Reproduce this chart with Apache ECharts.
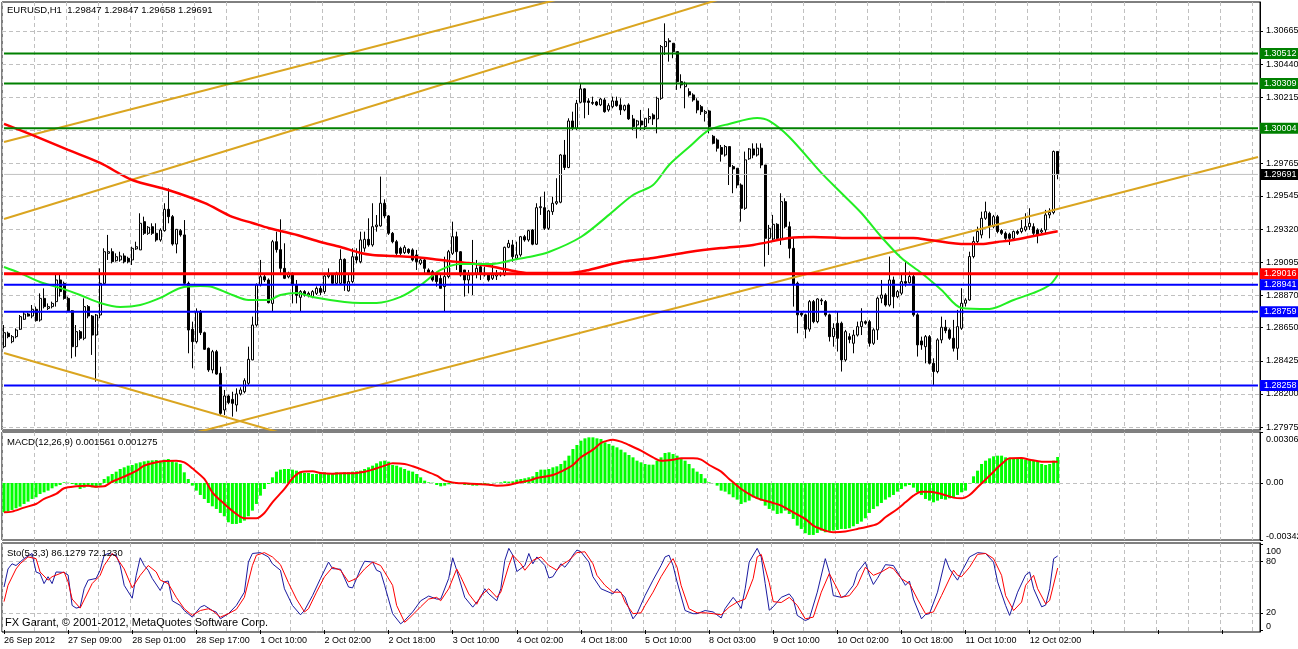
<!DOCTYPE html>
<html>
<head>
<meta charset="utf-8">
<title>EURUSD,H1</title>
<script src="https://cdn.jsdelivr.net/npm/echarts@6/dist/echarts.min.js"></script>
<style>
  html, body { margin: 0; padding: 0; background: #fff; }
  #main { width: 1298px; height: 649px; }
</style>
</head>
<body>
<div id="main"></div>
<script>
// slots on the time axis: 264 hourly bars + empty space on the right
var barCount = 314
var categories = []
for (var k = 0; k < barCount; k++) categories.push(String(k))

// one label every 16 bars
var timeLabels = ['26 Sep 2012', '27 Sep 09:00', '28 Sep 01:00', '28 Sep 17:00', '1 Oct 10:00',
  '2 Oct 02:00', '2 Oct 18:00', '3 Oct 10:00', '4 Oct 02:00', '4 Oct 18:00', '5 Oct 10:00',
  '8 Oct 03:00', '9 Oct 10:00', '10 Oct 02:00', '10 Oct 18:00', '11 Oct 10:00', '12 Oct 02:00']

var priceTicks = [1.30665, 1.30440, 1.30215, 1.29990, 1.29765, 1.29545, 1.29320,
  1.29095, 1.28870, 1.28650, 1.28425, 1.28200, 1.27975]

// EURUSD H1 bars: [open, close, low, high]
var candles = [
  [1.28521, 1.28616, 1.28510, 1.28668], [1.28612, 1.28589, 1.28578, 1.28623], [1.28555, 1.28589, 1.28544, 1.28600], [1.28589, 1.28634, 1.28578, 1.28645], [1.28639, 1.28725, 1.28634, 1.28736],
  [1.28707, 1.28743, 1.28702, 1.28759], [1.28743, 1.28729, 1.28725, 1.28752], [1.28729, 1.28775, 1.28714, 1.28804], [1.28775, 1.28698, 1.28691, 1.28793], [1.28702, 1.28849, 1.28691, 1.28883],
  [1.28849, 1.28793, 1.28781, 1.28917], [1.28781, 1.28793, 1.28770, 1.28815], [1.28793, 1.28815, 1.28781, 1.28827], [1.28827, 1.28974, 1.28793, 1.29019], [1.28974, 1.28895, 1.28861, 1.29008],
  [1.28951, 1.28849, 1.28840, 1.28963], [1.28849, 1.28765, 1.28759, 1.28861], [1.28765, 1.28521, 1.28442, 1.28770], [1.28521, 1.28623, 1.28453, 1.28668], [1.28623, 1.28578, 1.28565, 1.28634],
  [1.28578, 1.28793, 1.28565, 1.28849], [1.28793, 1.28729, 1.28714, 1.28804], [1.28729, 1.28600, 1.28465, 1.28736], [1.28600, 1.28736, 1.28283, 1.28743], [1.28736, 1.28951, 1.28714, 1.29053],
  [1.28951, 1.29166, 1.28940, 1.29189], [1.29155, 1.29166, 1.29110, 1.29280], [1.29166, 1.29098, 1.29087, 1.29189], [1.29105, 1.29132, 1.29098, 1.29155], [1.29110, 1.29137, 1.29098, 1.29166],
  [1.29137, 1.29098, 1.29087, 1.29155], [1.29121, 1.29098, 1.29087, 1.29132], [1.29110, 1.29189, 1.29076, 1.29200], [1.29185, 1.29200, 1.29178, 1.29234], [1.29178, 1.29359, 1.29178, 1.29427],
  [1.29370, 1.29291, 1.29280, 1.29404], [1.29291, 1.29332, 1.29280, 1.29340], [1.29336, 1.29291, 1.29280, 1.29359], [1.29291, 1.29246, 1.29234, 1.29359], [1.29246, 1.29313, 1.29234, 1.29325],
  [1.29309, 1.29454, 1.29302, 1.29495], [1.29454, 1.29404, 1.29359, 1.29596], [1.29404, 1.29218, 1.29207, 1.29415], [1.29218, 1.29318, 1.29155, 1.29320], [1.29309, 1.29280, 1.29268, 1.29320],
  [1.29280, 1.28951, 1.28940, 1.29381], [1.28951, 1.28634, 1.28476, 1.28963], [1.28639, 1.28555, 1.28374, 1.28691], [1.28555, 1.28759, 1.28543, 1.28781], [1.28759, 1.28616, 1.28600, 1.28770],
  [1.28616, 1.28503, 1.28499, 1.28623], [1.28510, 1.28363, 1.28350, 1.28515], [1.28363, 1.28487, 1.28340, 1.28499], [1.28487, 1.28335, 1.28330, 1.28499], [1.28340, 1.28068, 1.28057, 1.28385],
  [1.28091, 1.28186, 1.28057, 1.28227], [1.28186, 1.28141, 1.28130, 1.28195], [1.28163, 1.28136, 1.28046, 1.28215], [1.28125, 1.28200, 1.28080, 1.28238], [1.28200, 1.28227, 1.28190, 1.28245],
  [1.28215, 1.28290, 1.28204, 1.28306], [1.28272, 1.28435, 1.28261, 1.28521], [1.28431, 1.28668, 1.28429, 1.28725], [1.28668, 1.28940, 1.28657, 1.28951], [1.28940, 1.28996, 1.28930, 1.29110],
  [1.28996, 1.28974, 1.28960, 1.29008], [1.28974, 1.28820, 1.28815, 1.28985], [1.28815, 1.29234, 1.28759, 1.29246], [1.29234, 1.29180, 1.29160, 1.29302], [1.29180, 1.29053, 1.29019, 1.29386],
  [1.29053, 1.28985, 1.28980, 1.29223], [1.28995, 1.29019, 1.28985, 1.29030], [1.29019, 1.28940, 1.28815, 1.29025], [1.28940, 1.28870, 1.28815, 1.28974], [1.28856, 1.28895, 1.28759, 1.28905],
  [1.28895, 1.28872, 1.28861, 1.28905], [1.28872, 1.28883, 1.28856, 1.28895], [1.28861, 1.28895, 1.28850, 1.28905], [1.28883, 1.28917, 1.28872, 1.28930], [1.28917, 1.28890, 1.28872, 1.28935],
  [1.28895, 1.29001, 1.28880, 1.29010], [1.28997, 1.29008, 1.28985, 1.29053], [1.29008, 1.28951, 1.28940, 1.29019], [1.28951, 1.29019, 1.28940, 1.29030], [1.28951, 1.29114, 1.28945, 1.29182],
  [1.29114, 1.28951, 1.28900, 1.29121], [1.28900, 1.28963, 1.28895, 1.29019], [1.28963, 1.29132, 1.28951, 1.29189], [1.29132, 1.29110, 1.29087, 1.29189], [1.29098, 1.29246, 1.29087, 1.29302],
  [1.29190, 1.29250, 1.29166, 1.29302], [1.29250, 1.29212, 1.29200, 1.29393], [1.29212, 1.29336, 1.29200, 1.29495], [1.29336, 1.29347, 1.29302, 1.29415], [1.29341, 1.29495, 1.29336, 1.29676],
  [1.29495, 1.29409, 1.29393, 1.29522], [1.29409, 1.29291, 1.29280, 1.29415], [1.29291, 1.29234, 1.29223, 1.29300], [1.29234, 1.29155, 1.29144, 1.29246], [1.29189, 1.29155, 1.29144, 1.29200],
  [1.29160, 1.29196, 1.29150, 1.29210], [1.29182, 1.29160, 1.29150, 1.29189], [1.29178, 1.29110, 1.29100, 1.29189], [1.29144, 1.29098, 1.29042, 1.29178], [1.29087, 1.29110, 1.29075, 1.29120],
  [1.29110, 1.29053, 1.29019, 1.29121], [1.29042, 1.29019, 1.29008, 1.29053], [1.29030, 1.28974, 1.28963, 1.29042], [1.29008, 1.28963, 1.28929, 1.29030], [1.28985, 1.28917, 1.28917, 1.29019],
  [1.28929, 1.28997, 1.28759, 1.29132], [1.28997, 1.29166, 1.28985, 1.29178], [1.29155, 1.29268, 1.29144, 1.29370], [1.29268, 1.29166, 1.29042, 1.29302], [1.29166, 1.29008, 1.28997, 1.29170],
  [1.29042, 1.28974, 1.28861, 1.29042], [1.28974, 1.29008, 1.28883, 1.29042], [1.29008, 1.29019, 1.28872, 1.29246], [1.29019, 1.29053, 1.28985, 1.29110], [1.29064, 1.29019, 1.28974, 1.29087],
  [1.29019, 1.29008, 1.28997, 1.29064], [1.29008, 1.28974, 1.28963, 1.29019], [1.28985, 1.29008, 1.28974, 1.29076], [1.29001, 1.29015, 1.28974, 1.29042], [1.29008, 1.29019, 1.28997, 1.29030],
  [1.29008, 1.29196, 1.29000, 1.29200], [1.29196, 1.29223, 1.29190, 1.29246], [1.29212, 1.29132, 1.29098, 1.29246], [1.29121, 1.29144, 1.29110, 1.29234], [1.29144, 1.29268, 1.29132, 1.29273],
  [1.29268, 1.29246, 1.29234, 1.29280], [1.29246, 1.29309, 1.29234, 1.29314], [1.29314, 1.29217, 1.29210, 1.29320], [1.29217, 1.29465, 1.29212, 1.29495], [1.29465, 1.29472, 1.29416, 1.29540],
  [1.29465, 1.29325, 1.29314, 1.29574], [1.29325, 1.29443, 1.29314, 1.29450], [1.29438, 1.29495, 1.29416, 1.29540], [1.29495, 1.29506, 1.29484, 1.29665], [1.29502, 1.29823, 1.29495, 1.29830],
  [1.29823, 1.29738, 1.29721, 1.29925], [1.29738, 1.30054, 1.29733, 1.30072], [1.30054, 1.30004, 1.29993, 1.30117], [1.30004, 1.30174, 1.29993, 1.30197], [1.30181, 1.30272, 1.30174, 1.30310],
  [1.30272, 1.30181, 1.30072, 1.30276], [1.30190, 1.30180, 1.30095, 1.30208], [1.30180, 1.30174, 1.30163, 1.30219], [1.30183, 1.30163, 1.30155, 1.30190], [1.30163, 1.30203, 1.30155, 1.30210],
  [1.30197, 1.30117, 1.30110, 1.30210], [1.30129, 1.30158, 1.30117, 1.30174], [1.30151, 1.30190, 1.30140, 1.30219], [1.30190, 1.30158, 1.30151, 1.30219], [1.30163, 1.30129, 1.30095, 1.30208],
  [1.30129, 1.30158, 1.30120, 1.30165], [1.30163, 1.30068, 1.30061, 1.30174], [1.30068, 1.30016, 1.29993, 1.30095], [1.30027, 1.30054, 1.29936, 1.30061], [1.30054, 1.30027, 1.29993, 1.30129],
  [1.30016, 1.30072, 1.29993, 1.30072], [1.30068, 1.30084, 1.30038, 1.30140], [1.30095, 1.30068, 1.30027, 1.30106], [1.30068, 1.30208, 1.29970, 1.30219], [1.30208, 1.30559, 1.30197, 1.30570],
  [1.30559, 1.30593, 1.30502, 1.30717], [1.30598, 1.30592, 1.30457, 1.30616], [1.30582, 1.30525, 1.30480, 1.30582], [1.30525, 1.30321, 1.30265, 1.30525], [1.30321, 1.30299, 1.30276, 1.30371],
  [1.30287, 1.30310, 1.30140, 1.30321], [1.30253, 1.30231, 1.30219, 1.30276], [1.30231, 1.30197, 1.30185, 1.30242], [1.30190, 1.30129, 1.30106, 1.30208], [1.30151, 1.30117, 1.30095, 1.30163],
  [1.30106, 1.30117, 1.30050, 1.30129], [1.30122, 1.30016, 1.29970, 1.30129], [1.29950, 1.29902, 1.29895, 1.29959], [1.29925, 1.29869, 1.29846, 1.29936], [1.29874, 1.29828, 1.29778, 1.29891],
  [1.29823, 1.29880, 1.29812, 1.29891], [1.29880, 1.29744, 1.29619, 1.29880], [1.29744, 1.29728, 1.29563, 1.29755], [1.29733, 1.29619, 1.29597, 1.29733], [1.29619, 1.29461, 1.29370, 1.29630],
  [1.29461, 1.29790, 1.29450, 1.29846], [1.29797, 1.29864, 1.29790, 1.29870], [1.29864, 1.29823, 1.29801, 1.29902], [1.29823, 1.29869, 1.29812, 1.29902], [1.29869, 1.29755, 1.29733, 1.29902],
  [1.29755, 1.29257, 1.29065, 1.29755], [1.29257, 1.29325, 1.29144, 1.29348], [1.29252, 1.29352, 1.29245, 1.29416], [1.29352, 1.29257, 1.29250, 1.29360], [1.29257, 1.29506, 1.29212, 1.29563],
  [1.29506, 1.29336, 1.29325, 1.29529], [1.29336, 1.29189, 1.29121, 1.29370], [1.29189, 1.28940, 1.28793, 1.29257], [1.28952, 1.28737, 1.28612, 1.28963], [1.28748, 1.28737, 1.28725, 1.28760],
  [1.28737, 1.28640, 1.28578, 1.28745], [1.28640, 1.28827, 1.28623, 1.28838], [1.28827, 1.28691, 1.28680, 1.28838], [1.28691, 1.28845, 1.28680, 1.28850], [1.28838, 1.28832, 1.28804, 1.28850],
  [1.28827, 1.28737, 1.28725, 1.28838], [1.28737, 1.28589, 1.28556, 1.28745], [1.28589, 1.28646, 1.28521, 1.28680], [1.28680, 1.28578, 1.28488, 1.28759], [1.28680, 1.28431, 1.28352, 1.28691],
  [1.28431, 1.28623, 1.28420, 1.28635], [1.28589, 1.28570, 1.28544, 1.28612], [1.28544, 1.28600, 1.28476, 1.28635], [1.28600, 1.28657, 1.28590, 1.28691], [1.28657, 1.28691, 1.28600, 1.28782],
  [1.28691, 1.28680, 1.28670, 1.28700], [1.28691, 1.28544, 1.28521, 1.28703], [1.28544, 1.28635, 1.28533, 1.28646], [1.28635, 1.28850, 1.28567, 1.28861], [1.28850, 1.28872, 1.28816, 1.28974],
  [1.28872, 1.28804, 1.28793, 1.28884], [1.28804, 1.28974, 1.28793, 1.29133], [1.28974, 1.28861, 1.28782, 1.28997], [1.28861, 1.28895, 1.28850, 1.28906], [1.28884, 1.28963, 1.28872, 1.29019],
  [1.28963, 1.28952, 1.28929, 1.29099], [1.28955, 1.28997, 1.28950, 1.29031], [1.28997, 1.28737, 1.28725, 1.29019], [1.28737, 1.28533, 1.28454, 1.28748], [1.28560, 1.28533, 1.28500, 1.28589],
  [1.28521, 1.28589, 1.28408, 1.28600], [1.28589, 1.28408, 1.28400, 1.28600], [1.28408, 1.28352, 1.28261, 1.28442], [1.28352, 1.28567, 1.28340, 1.28578], [1.28567, 1.28653, 1.28544, 1.28725],
  [1.28653, 1.28630, 1.28612, 1.28703], [1.28635, 1.28578, 1.28567, 1.28646], [1.28578, 1.28510, 1.28488, 1.28703], [1.28510, 1.28657, 1.28431, 1.28771], [1.28646, 1.28816, 1.28635, 1.28918],
  [1.28816, 1.28838, 1.28793, 1.28850], [1.28838, 1.29133, 1.28834, 1.29166], [1.29133, 1.29235, 1.29121, 1.29269], [1.29235, 1.29303, 1.29223, 1.29336], [1.29280, 1.29393, 1.29257, 1.29438],
  [1.29393, 1.29438, 1.29382, 1.29506], [1.29427, 1.29336, 1.29257, 1.29438], [1.29336, 1.29404, 1.29325, 1.29416], [1.29404, 1.29303, 1.29291, 1.29416], [1.29310, 1.29291, 1.29280, 1.29320],
  [1.29291, 1.29257, 1.29246, 1.29303], [1.29285, 1.29257, 1.29212, 1.29295], [1.29257, 1.29303, 1.29246, 1.29310], [1.29303, 1.29291, 1.29280, 1.29314], [1.29303, 1.29325, 1.29291, 1.29382],
  [1.29314, 1.29336, 1.29303, 1.29427], [1.29336, 1.29359, 1.29314, 1.29461], [1.29336, 1.29291, 1.29269, 1.29359], [1.29314, 1.29280, 1.29223, 1.29325], [1.29300, 1.29310, 1.29290, 1.29325],
  [1.29314, 1.29416, 1.29291, 1.29450], [1.29416, 1.29432, 1.29393, 1.29461], [1.29432, 1.29847, 1.29420, 1.29853], [1.29847, 1.29691, 1.29658, 1.29847]
]

// moving averages read at selected bars: [bar, price]
var maRed = [[0, 1.30034], [7, 1.29959], [16, 1.29857], [24, 1.29769], [32, 1.29653], [41, 1.29585], [50, 1.29497],
  [57, 1.29402], [62, 1.29361], [66, 1.29327], [69, 1.29307], [74, 1.29273], [79, 1.29232], [84, 1.29198], [89, 1.29157],
  [92, 1.29144], [97, 1.29137], [102, 1.29130], [107, 1.29117], [111, 1.29103], [116, 1.29089], [121, 1.29069], [126, 1.29042],
  [131, 1.29021], [141, 1.29021], [146, 1.29042], [154, 1.29096], [162, 1.29123], [171, 1.29164], [179, 1.29191], [187, 1.29212],
  [196, 1.29259], [202, 1.29266], [211, 1.29259], [219, 1.29259], [227, 1.29259], [231, 1.29246], [240, 1.29218], [244, 1.29218],
  [248, 1.29232], [252, 1.29246], [257, 1.29273], [262, 1.29300], [263, 1.29305]]
var maGreen = [[0, 1.29062], [4, 1.29021], [9, 1.28960], [14, 1.28920], [19, 1.28872], [24, 1.28818], [29, 1.28791],
  [34, 1.28804], [39, 1.28852], [44, 1.28920], [49, 1.28933], [52, 1.28926], [57, 1.28872], [61, 1.28838], [66, 1.28838],
  [69, 1.28872], [73, 1.28886], [77, 1.28859], [85, 1.28825], [89, 1.28818], [93, 1.28818], [99, 1.28859], [104, 1.28940],
  [109, 1.29042], [114, 1.29083], [122, 1.29083], [127, 1.29110], [131, 1.29130], [136, 1.29164], [144, 1.29266], [151, 1.29416],
  [157, 1.29551], [162, 1.29619], [166, 1.29755], [171, 1.29877], [176, 1.29993], [181, 1.30034], [188, 1.30074], [191, 1.30054],
  [196, 1.29945], [204, 1.29701], [209, 1.29565], [214, 1.29429], [219, 1.29266], [224, 1.29123], [229, 1.29021], [234, 1.28906],
  [239, 1.28784], [246, 1.28777], [252, 1.28838], [257, 1.28886], [261, 1.28940], [263, 1.29008]]

// horizontal levels
var greenLevels = [1.30512, 1.30309, 1.30004]
var redLevels = [1.29016]
var blueLevels = [1.28941, 1.28759, 1.28258]
var bidPrice = 1.29691

// trend lines: [bar, price] end points
var trendUpperA = [[0, 1.29911], [160, 1.31032]]
var trendUpperB = [[0, 1.29388], [200, 1.31059]]
var trendRising = [[40, 1.27882], [313, 1.29809]]
var trendFalling = [[0, 1.28478], [70, 1.27928]]

// MACD(12,26,9) main values (histogram)
var macdMain = [
  -0.00176, -0.00172, -0.00162, -0.00152, -0.00142, -0.00126, -0.00112, -0.00096, -0.00086, -0.00066,
  -0.00056, -0.00046, -0.00032, -0.00020, -0.00012, 0.00004, 0.00002, -0.00006, -0.00012, -0.00036,
  -0.00028, -0.00020, -0.00026, -0.00028, -0.00016, 0.00024, 0.00040, 0.00054, 0.00068, 0.00084,
  0.00094, 0.00104, 0.00108, 0.00118, 0.00124, 0.00130, 0.00134, 0.00136, 0.00138, 0.00134,
  0.00140, 0.00144, 0.00130, 0.00124, 0.00114, 0.00064, 0.00024, -0.00016, -0.00046, -0.00072,
  -0.00096, -0.00120, -0.00140, -0.00156, -0.00180, -0.00200, -0.00236, -0.00246, -0.00246, -0.00240,
  -0.00226, -0.00200, -0.00166, -0.00126, -0.00076, -0.00036, -0.00006, 0.00034, 0.00068, 0.00080,
  0.00084, 0.00084, 0.00080, 0.00074, 0.00068, 0.00060, 0.00060, 0.00054, 0.00054, 0.00060,
  0.00064, 0.00060, 0.00058, 0.00064, 0.00060, 0.00064, 0.00064, 0.00068, 0.00070, 0.00074,
  0.00084, 0.00094, 0.00104, 0.00118, 0.00130, 0.00134, 0.00128, 0.00108, 0.00104, 0.00094,
  0.00084, 0.00074, 0.00068, 0.00054, 0.00034, 0.00014, 0.00004, 0.00002, -0.00012, -0.00020,
  -0.00016, -0.00008, -0.00002, -0.00002, -0.00002, -0.00012, -0.00012, -0.00016, -0.00016, -0.00006,
  -0.00006, -0.00002, 0.00001, 0.00002, 0.00004, 0.00010, 0.00008, 0.00010, 0.00020, 0.00024,
  0.00028, 0.00034, 0.00040, 0.00066, 0.00080, 0.00080, 0.00084, 0.00094, 0.00100, 0.00114,
  0.00134, 0.00164, 0.00204, 0.00228, 0.00254, 0.00268, 0.00274, 0.00274, 0.00268, 0.00264,
  0.00244, 0.00234, 0.00224, 0.00214, 0.00200, 0.00184, 0.00168, 0.00154, 0.00134, 0.00124,
  0.00114, 0.00110, 0.00110, 0.00134, 0.00154, 0.00180, 0.00184, 0.00174, 0.00164, 0.00148,
  0.00134, 0.00114, 0.00088, 0.00068, 0.00054, 0.00028, 0.00004, -0.00001, -0.00016, -0.00046,
  -0.00052, -0.00068, -0.00086, -0.00100, -0.00126, -0.00116, -0.00106, -0.00086, -0.00096, -0.00106,
  -0.00136, -0.00156, -0.00166, -0.00186, -0.00182, -0.00166, -0.00186, -0.00216, -0.00256, -0.00276,
  -0.00302, -0.00312, -0.00312, -0.00300, -0.00286, -0.00296, -0.00292, -0.00286, -0.00282, -0.00276,
  -0.00276, -0.00272, -0.00260, -0.00246, -0.00232, -0.00212, -0.00180, -0.00156, -0.00140, -0.00120,
  -0.00100, -0.00086, -0.00072, -0.00052, -0.00036, -0.00020, -0.00012, -0.00028, -0.00056, -0.00072,
  -0.00096, -0.00106, -0.00116, -0.00106, -0.00096, -0.00100, -0.00092, -0.00086, -0.00072, -0.00056,
  -0.00046, -0.00002, 0.00040, 0.00074, 0.00114, 0.00134, 0.00148, 0.00160, 0.00164, 0.00164,
  0.00154, 0.00148, 0.00144, 0.00144, 0.00144, 0.00140, 0.00140, 0.00134, 0.00128, 0.00114,
  0.00108, 0.00114, 0.00134, 0.001561
]
var macdSignal = [[0, -0.00176], [2, -0.00172], [5, -0.00148], [8, -0.00126], [10, -0.00096], [13, -0.00066],
  [15, -0.00032], [18, -0.00020], [21, -0.00016], [23, -0.00022], [25, -0.00020], [27, 0.00008], [30, 0.00038],
  [33, 0.00072], [35, 0.00104], [38, 0.00124], [40, 0.00132], [43, 0.00134], [45, 0.00124], [47, 0.00088],
  [50, 0.00024], [52, -0.00056], [55, -0.00126], [58, -0.00186], [60, -0.00212], [63, -0.00212], [65, -0.00180],
  [67, -0.00116], [70, -0.00036], [72, 0.00028], [74, 0.00064], [77, 0.00070], [79, 0.00060], [82, 0.00056],
  [84, 0.00058], [87, 0.00058], [90, 0.00068], [92, 0.00080], [95, 0.00104], [97, 0.00118], [100, 0.00114],
  [102, 0.00100], [105, 0.00074], [108, 0.00044], [110, 0.00014], [113, 0], [115, -0.00002], [118, -0.00006],
  [121, -0.00010], [123, -0.00016], [126, -0.00012], [128, 0], [131, 0.00014], [133, 0.00030], [134, 0.00034],
  [137, 0.00048], [139, 0.00068], [142, 0.00108], [144, 0.00154], [147, 0.00200], [149, 0.00240], [150, 0.00250],
  [152, 0.00260], [154, 0.00248], [156, 0.00228], [159, 0.00194], [162, 0.00154], [164, 0.00134], [167, 0.00140],
  [169, 0.00148], [172, 0.00148], [174, 0.00140], [176, 0.00108], [179, 0.00068], [181, 0.00024], [184, -0.00036],
  [187, -0.00080], [189, -0.00100], [192, -0.00120], [194, -0.00136], [197, -0.00176], [200, -0.00216],
  [202, -0.00256], [205, -0.00286], [207, -0.00296], [210, -0.00292], [213, -0.00276], [215, -0.00266],
  [218, -0.00246], [220, -0.00206], [223, -0.00156], [225, -0.00116], [227, -0.00076], [229, -0.00052],
  [231, -0.00052], [234, -0.00066], [237, -0.00088], [239, -0.00092], [241, -0.00072], [243, -0.00026],
  [246, 0.00044], [249, 0.00114], [251, 0.00148], [254, 0.00150], [256, 0.00140], [259, 0.00128], [261, 0.00128],
  [263, 0.001275]]
var macdMax = 0.003061
var macdMin = -0.003424

// Stochastic(5,3,3) read at turning points: [bar, value]
var stochMain = [[0, 50], [1, 71], [2, 77], [3, 75], [5, 83], [7, 89], [8, 67.5], [9, 65.6], [10, 54], [11, 62], [12, 54],
  [13, 67.5], [15, 67], [16, 64], [17, 28.6], [18, 25.5], [19, 26.6], [20, 48], [21, 58], [23, 60], [24, 69.5], [25, 87],
  [26, 89], [28, 87], [29, 75], [30, 52], [32, 37], [33, 63.6], [34, 84], [35, 75], [36, 69.5], [37, 60], [39, 46], [40, 56],
  [41, 57], [42, 34], [44, 28.6], [45, 22.7], [47, 15], [49, 26.6], [50, 28.6], [52, 22.7], [53, 20.8], [54, 13], [56, 19],
  [58, 28.6], [60, 44], [61, 79], [62, 89], [64, 90], [66, 85], [67, 77], [69, 69.5], [70, 48], [72, 28.6], [74, 17.7],
  [75, 22.7], [77, 40], [79, 60], [81, 79], [82, 71.4], [84, 70.7], [86, 50], [87, 49], [88, 60], [89, 71], [90, 80],
  [92, 79], [93, 69.5], [94, 67.5], [95, 52], [97, 19], [99, 7.2], [100, 11], [102, 21], [104, 34], [106, 39.5], [108, 36],
  [109, 36], [111, 60], [112, 84], [113, 69.5], [115, 38], [117, 26.6], [119, 38], [120, 48], [121, 42], [123, 34], [124, 48],
  [125, 81], [126, 95], [127, 87], [128, 68], [130, 75], [131, 89], [132, 77], [133, 85], [135, 75], [136, 60.5], [137, 62],
  [139, 77], [140, 73], [141, 79], [142, 87], [143, 93], [144, 91], [146, 79], [147, 62], [149, 48], [151, 44], [152, 42],
  [153, 48], [155, 38], [156, 24.7], [157, 13], [158, 19], [160, 40], [162, 58], [164, 75], [165, 85], [166, 87], [167, 75],
  [168, 56], [170, 22.7], [172, 19], [173, 19], [175, 22.7], [177, 21], [179, 14], [180, 25], [182, 38], [183, 32], [184, 25],
  [185, 48], [186, 79], [188, 95], [189, 85], [190, 54], [191, 23], [192, 27], [194, 38], [196, 42], [197, 36], [198, 17],
  [200, 11], [201, 13], [203, 44], [205, 83], [206, 67], [207, 40], [209, 38], [210, 40], [212, 52], [213, 67], [215, 79],
  [216, 64], [217, 53], [218, 60], [220, 76], [222, 75], [223, 67.5], [225, 52], [226, 57], [227, 36], [229, 13], [230, 18],
  [231, 19], [233, 44], [235, 83], [236, 71], [238, 58], [239, 67.5], [241, 85], [243, 90], [245, 89], [247, 79], [248, 56],
  [250, 28.6], [251, 17], [253, 44], [255, 64], [256, 67.5], [257, 48], [259, 27], [260, 29], [261, 48], [262, 83], [263, 86.1279]]
var stochSignal = [[0, 33], [1, 52], [3, 71], [4, 77], [6, 85], [8, 83], [9, 67.5], [11, 58], [12, 62], [15, 67.5], [16, 56],
  [17, 36], [19, 25.5], [20, 35], [22, 54], [24, 63.6], [25, 75], [27, 89], [28, 85], [30, 71], [32, 49], [34, 63.6], [36, 75],
  [38, 67.5], [39, 58], [41, 54], [43, 38], [45, 24.7], [47, 17], [49, 22.7], [51, 24.7], [52, 22.7], [54, 15], [56, 19],
  [58, 24], [60, 38], [62, 75], [63, 87], [65, 90], [67, 85], [69, 76], [71, 55], [73, 36], [75, 21], [76, 24.7], [78, 44],
  [80, 62], [82, 73], [84, 69.5], [86, 56], [88, 60], [90, 71], [92, 79], [94, 75], [95, 67.5], [97, 52], [98, 28.6], [100, 9],
  [101, 13], [104, 27], [106, 36], [108, 38], [109, 34], [111, 48], [113, 71], [114, 62], [116, 42], [118, 30], [119, 40],
  [121, 48], [123, 38], [124, 44], [126, 75], [127, 87], [129, 77], [130, 69.5], [132, 81], [134, 85], [136, 75], [138, 69.5],
  [139, 75], [141, 81], [143, 90], [145, 91], [147, 77], [148, 63.6], [150, 52], [152, 44], [154, 44], [155, 32.5], [157, 19],
  [159, 20], [160, 28.6], [162, 44], [164, 62], [166, 77], [167, 83], [168, 73], [169, 52], [171, 24.7], [173, 20], [175, 20],
  [177, 19], [179, 17.7], [181, 26.6], [183, 32.5], [185, 36], [187, 60], [188, 85], [189, 88], [191, 55], [192, 33], [194, 32],
  [196, 38], [198, 28.6], [200, 13], [202, 15], [204, 44], [206, 65.6], [208, 48], [209, 38], [211, 40], [213, 52], [215, 73],
  [217, 63.6], [219, 67.5], [221, 73], [222, 71.4], [224, 59.7], [226, 54], [228, 36], [230, 19], [232, 21], [234, 40],
  [237, 69.5], [238, 63.6], [239, 62], [241, 73], [243, 88], [245, 89], [247, 83], [249, 63.6], [250, 40], [252, 22.7],
  [254, 32.5], [255, 52], [257, 63.6], [258, 48], [260, 30.5], [261, 34.4], [263, 72.123]]

var font = 'Liberation Sans'
var axisFontSize = 9
var gridColor = '#c0c0c0'
var dash = [4, 3]
var last = candles[candles.length - 1]

function textBox (text, left, top, size) {
  return {
    text: text, left: left, top: top, padding: 0,
    textStyle: { fontFamily: font, fontSize: size || 9.5, fontWeight: 'normal', color: '#000' }
  }
}

// a horizontal level drawn across the whole pane, with its price tag on the axis
function levelSeries (value, color, width, tagColor, endMarks) {
  return {
    type: 'line', xAxisIndex: 0, yAxisIndex: 0, silent: true, z: 5,
    data: [[0, value], [barCount - 1, value]],
    symbol: endMarks ? 'rect' : 'none', symbolSize: 5, showSymbol: !!endMarks,
    itemStyle: { color: '#fff', borderColor: color, borderWidth: 1.5 },
    lineStyle: { color: color, width: width },
    endLabel: {
      show: true, distance: 2, formatter: value.toFixed(5),
      backgroundColor: tagColor || color, color: '#fff', padding: [1, 4, 0, 4],
      fontFamily: font, fontSize: axisFontSize, lineHeight: 10
    }
  }
}

function timeAxis (gridIndex, withLabels) {
  return {
    type: 'category', gridIndex: gridIndex, data: categories, boundaryGap: true,
    axisLine: { show: false },
    axisTick: { show: withLabels, interval: 15, alignWithLabel: true, length: 4, lineStyle: { color: '#000' } },
    axisLabel: {
      show: withLabels, interval: 15, align: 'left', margin: 4,
      fontFamily: font, fontSize: axisFontSize, color: '#000',
      formatter: function (v, idx) { return timeLabels[idx / 16] || '' }
    },
    splitLine: { show: true, interval: 7, lineStyle: { color: gridColor, type: dash } }
  }
}

function trend (data) {
  return {
    type: 'line', xAxisIndex: 0, yAxisIndex: 0, data: data, symbol: 'none', silent: true,
    lineStyle: { color: '#DAA520', width: 2 }, z: 3
  }
}

function pane (top, height) {
  return {
    left: 2, top: top, width: 1258, height: height, outerBoundsMode: 'none',
    show: true, borderColor: '#000', borderWidth: 1
  }
}

var levels = []
levels.push(levelSeries(bidPrice, '#c0c0c0', 1, '#000'))
greenLevels.forEach(function (v, n) { levels.push(levelSeries(v, '#008000', 2, null, n === greenLevels.length - 1)) })
redLevels.forEach(function (v) { levels.push(levelSeries(v, '#ff0000', 3)) })
blueLevels.forEach(function (v) { levels.push(levelSeries(v, '#0000ff', 2)) })

var chart = echarts.init(document.getElementById('main'))
chart.setOption({
  animation: false,
  backgroundColor: '#fff',
  title: [
    textBox('EURUSD,H1  ' + [last[0], last[3], last[2], last[1]].map(function (v) { return v.toFixed(5) }).join(' '), 7, 5),
    textBox('MACD(12,26,9) ' + macdMain[macdMain.length - 1].toFixed(6) + ' ' + macdSignal[macdSignal.length - 1][1].toFixed(6), 7, 437),
    textBox('Sto(5,3,3) ' + stochMain[stochMain.length - 1][1].toFixed(4) + ' ' + stochSignal[stochSignal.length - 1][1].toFixed(4), 7, 548),
    textBox('FX Garant, \u00a9 2001-2012, MetaQuotes Software Corp.', 5, 617, 11)
  ],
  grid: [pane(2, 428), pane(432, 108), pane(543, 89)],
  xAxis: [timeAxis(0, false), timeAxis(1, false), timeAxis(2, true)],
  yAxis: [
    {
      type: 'value', gridIndex: 0, position: 'right', min: 1.27955, max: 1.30862,
      axisLine: { show: true, lineStyle: { color: '#000' } },
      axisTick: { show: true, customValues: priceTicks, length: 3, lineStyle: { color: '#000' } },
      axisLabel: {
        customValues: priceTicks, margin: 6, fontFamily: font, fontSize: axisFontSize, color: '#000',
        formatter: function (v) { return v.toFixed(5) }
      },
      splitLine: { show: true, lineStyle: { color: gridColor, type: dash } }
    },
    {
      type: 'value', gridIndex: 1, position: 'right', min: macdMin, max: macdMax,
      axisLine: { show: true, lineStyle: { color: '#000' } },
      axisTick: { show: true, customValues: [macdMin, 0, macdMax], length: 3, lineStyle: { color: '#000' } },
      axisLabel: {
        customValues: [macdMin, 0, macdMax], margin: 6, fontFamily: font, fontSize: axisFontSize, color: '#000',
        formatter: function (v) {
          if (v === 0) return '0.00'
          return v > 0 ? '{t|' + v + '}' : '{b|' + v + '}'
        },
        rich: { t: { padding: [16, 0, 0, 0] }, b: { padding: [0, 0, 6, 0] } }
      },
      splitLine: { show: false }
    },
    {
      type: 'value', gridIndex: 2, position: 'right', min: -2.3, max: 101.2,
      axisLine: { show: true, lineStyle: { color: '#000' } },
      axisTick: { show: true, customValues: [0, 20, 80, 100], length: 3, lineStyle: { color: '#000' } },
      axisLabel: {
        customValues: [0, 20, 80, 100], margin: 6, fontFamily: font, fontSize: axisFontSize, color: '#000',
        formatter: function (v) {
          if (v === 100) return '{t|100}'
          if (v === 0) return '{b|0}'
          return String(v)
        },
        rich: { t: { padding: [14, 0, 0, 0] }, b: { padding: [0, 0, 8, 0] } }
      },
      splitLine: { show: false }
    }
  ],
  series: [
    {
      name: 'EURUSD,H1', type: 'candlestick', xAxisIndex: 0, yAxisIndex: 0,
      data: candles, barWidth: 2.5,
      itemStyle: { color: '#fff', color0: '#000', borderColor: '#000', borderColor0: '#000', borderWidth: 1 }
    },
    {
      name: 'MA slow', type: 'line', xAxisIndex: 0, yAxisIndex: 0, data: maRed,
      symbol: 'none', smooth: 0.3, lineStyle: { color: '#ff0000', width: 2.5 }, z: 4
    },
    {
      name: 'MA fast', type: 'line', xAxisIndex: 0, yAxisIndex: 0, data: maGreen,
      symbol: 'none', smooth: 0.3, lineStyle: { color: '#22ee22', width: 2 }, z: 4
    },
    trend(trendUpperA), trend(trendUpperB), trend(trendRising), trend(trendFalling)
  ].concat(levels, [
    {
      name: 'MACD', type: 'bar', xAxisIndex: 1, yAxisIndex: 1, data: macdMain,
      barWidth: 3, itemStyle: { color: '#00ff00' },
      markLine: {
        symbol: 'none', silent: true, z: 1, label: { show: false },
        lineStyle: { color: gridColor, type: dash, width: 1 }, data: [{ yAxis: 0 }]
      }
    },
    {
      name: 'Signal', type: 'line', xAxisIndex: 1, yAxisIndex: 1, data: macdSignal,
      symbol: 'none', smooth: 0.3, lineStyle: { color: '#ff0000', width: 2 }, z: 3
    },
    {
      name: 'Sto main', type: 'line', xAxisIndex: 2, yAxisIndex: 2, data: stochMain,
      symbol: 'none', lineStyle: { color: '#1a1aa0', width: 1 }, z: 3,
      markLine: {
        symbol: 'none', silent: true, z: 1, label: { show: false },
        lineStyle: { color: gridColor, type: dash, width: 1 }, data: [{ yAxis: 20 }, { yAxis: 80 }]
      }
    },
    {
      name: 'Sto signal', type: 'line', xAxisIndex: 2, yAxisIndex: 2, data: stochSignal,
      symbol: 'none', lineStyle: { color: '#ff0000', width: 1 }, z: 3
    }
  ])
})
</script>
</body>
</html>
